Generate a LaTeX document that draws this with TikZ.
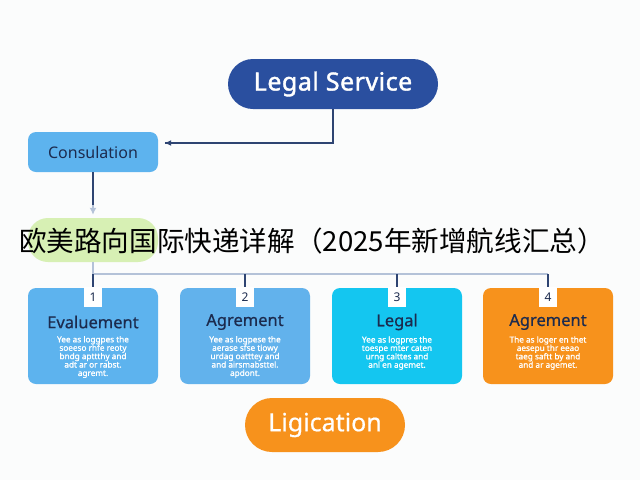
\documentclass[tikz,border=0pt]{standalone}
\usepackage{fontspec}
\setmainfont{Noto Sans}
\newfontfamily\cjk{Noto Sans CJK SC}
\newfontfamily\lsheavy{Noto Sans}[FakeBold=1.6,LetterSpace=2]
\newfontfamily\lsmedium{Noto Sans}[FakeBold=0.6]
\newfontfamily\lsbodyfont{Noto Sans}[FakeBold=1.2]
\usepackage{xcolor}
\usetikzlibrary{arrows.meta}
\definecolor{lsbg}{HTML}{FBFCFC}
\definecolor{lsnavy}{HTML}{2A4F9F}
\definecolor{lsink}{HTML}{1C2B4E}
\definecolor{lsline}{HTML}{2E4472}
\definecolor{lsbus}{HTML}{B4C2D8}
\definecolor{lssky}{HTML}{5DB3EE}
\definecolor{lssky2}{HTML}{62B2EC}
\definecolor{lscyan}{HTML}{14C6F0}
\definecolor{lsorange}{HTML}{F7921C}
\definecolor{lsgreen}{HTML}{D7F0B4}

\begin{document}
\begin{tikzpicture}[x=1pt,y=-1pt]
            \tikzset{
            ls pill/.style={rectangle,rounded corners=25pt,minimum width=210pt,minimum height=50pt,inner sep=0},
            ls box/.style={rectangle,rounded corners=8pt,minimum width=130pt,minimum height=96pt,inner sep=0},
            ls tab/.style={rectangle,fill=white,minimum width=18pt,minimum height=20pt,inner sep=0,text=lsink,font=\fontsize{12}{12}\selectfont},
            ls title/.style={text=lsink,font=\lsmedium\fontsize{16.5}{16.5}\selectfont},
            ls body/.style={text=white,align=center,font=\lsbodyfont\fontsize{8.2}{8.4}\selectfont},
            ls edge/.style={draw=lsline,line width=1.4pt},
            ls bus/.style={draw=lsbus,line width=1.4pt}
            }
            \fill[lsbg] (0,0) rectangle (640,480);
            \useasboundingbox (0,0) rectangle (640,480);

            % top of the chart
            \node[ls pill,fill=lsnavy,text=white,font=\lsheavy\fontsize{25}{25}\selectfont] (LS) at (333,84) {Legal Service};
            \node[ls box,fill=lssky,minimum height=40pt,text=lsink,font=\fontsize{16}{16}\selectfont] (C) at (93,152) {Consulation};
            \node[ls pill,fill=lsgreen,minimum width=130pt,minimum height=44pt,rounded corners=20pt] (G) at (93,240) {};
            \node[font=\cjk\fontsize{27.6}{27.6}\selectfont] (T) at (312,241) {欧美路向国际快递详解（2025年新增航线汇总）};

            % four steps
            \node[ls box,fill=lssky] (B1) at (93,336) {};
            \node[ls box,fill=lssky2] (B2) at (245,336) {};
            \node[ls box,fill=lscyan] (B3) at (397,336) {};
            \node[ls box,fill=lsorange] (B4) at (548,336) {};
            \node[ls tab] (N1) at (93,297) {1};
            \node[ls tab] (N2) at (245,297) {2};
            \node[ls tab] (N3) at (397,297) {3};
            \node[ls tab] (N4) at (548,297) {4};
            \node[ls title] (H1) at (93,322) {Evaluement};
            \node[ls title] (H2) at (245,322) {Agrement};
            \node[ls title] (H3) at (397,322) {Legal};
            \node[ls title] (H4) at (548,322) {Agrement};
            \node[ls body] (D1) at (93,357) {Yee as loggpes the\\soeeso rhfe reoty\\bndg apttthy and\\adt ar or rabst.\\agremt.};
            \node[ls body] (D2) at (245,357) {Yee as logpese the\\aerase sfse tiowy\\urdag oatttey and\\and airsmabsttel.\\apdont.};
            \node[ls body] (D3) at (397,353) {Yee as logpres the\\toespe mter caten\\urng calttes and\\anl en agemet.};
            \node[ls body] (D4) at (548,353) {The as loger en thet\\aesepu thr eeao\\taeg saftt by and\\and ar agemet.};

            \node[ls pill,fill=lsorange,minimum width=160pt,minimum height=54pt,rounded corners=27pt,text=white,font=\lsmedium\fontsize{25}{25}\selectfont] (L) at (325,425) {Ligication};

            \coordinate (bus) at (0,274);
            \coordinate (turn) at (0,143);

            \path[ls edge]
            (LS.south) |- ([xshift=7pt]C.east |- turn);
            \draw[line width=1.4pt,lsline,-{Latex[length=7pt,width=6pt]}] ([xshift=14pt]C.east |- turn) -- ([xshift=6pt]C.east |- turn);
            \draw[ls edge] (C.south) -- ([yshift=12pt]G.north);
            \draw[draw=lsbus,line width=1.4pt,-{Latex[length=7pt,width=7pt]}] ([yshift=13pt]G.north) -- ([yshift=3pt]G.north);
            \path[ls bus]
            (G.south) |- (N4.north |- bus)
            ;
            \path[ls edge]
            (N1.north |- bus) edge (N1.north)
            (N2.north |- bus) edge (N2.north)
            (N3.north |- bus) edge (N3.north)
            (N4.north |- bus) edge (N4.north)
            ;
        \end{tikzpicture}
\end{document}
